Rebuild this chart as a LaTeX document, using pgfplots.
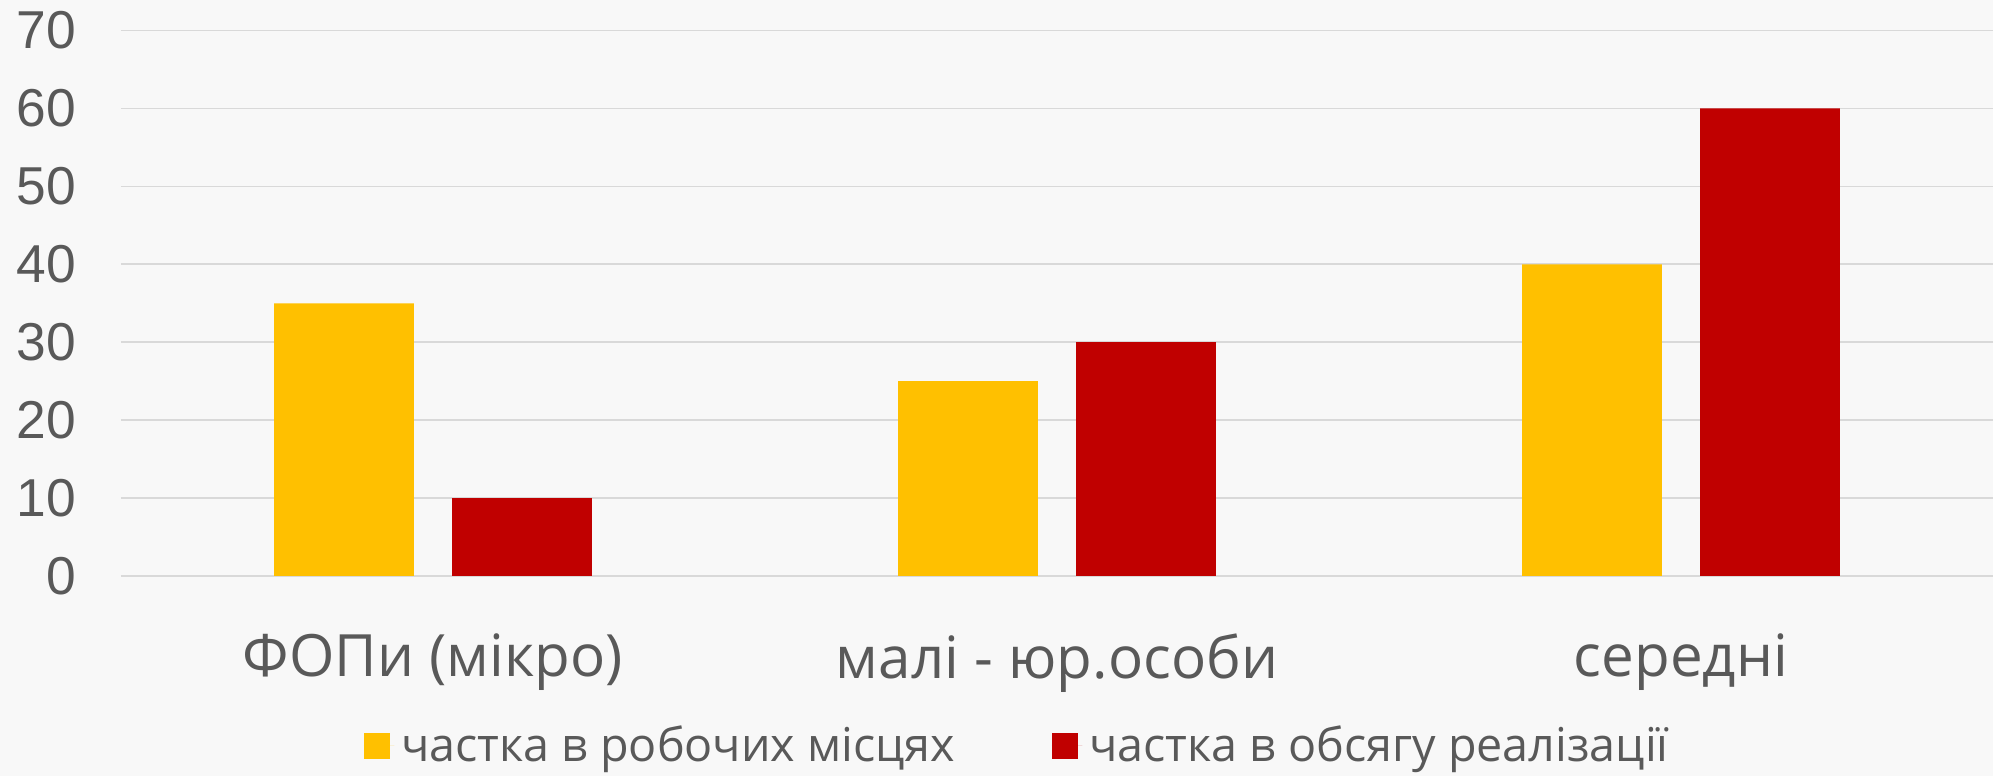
\documentclass[border=0pt]{standalone}
\usepackage{pgfplots}
\pgfplotsset{compat=1.18}
\usepackage{fontspec}
\setmainfont{Liberation Sans}
\newfontfamily\catfont{Open Sans}
\definecolor{bg}{HTML}{F8F8F8}
\definecolor{gridc}{HTML}{D9D9D9}
\definecolor{txt}{HTML}{595959}
\definecolor{yel}{HTML}{FFC000}
\definecolor{redc}{HTML}{C00000}
\begin{document}
\begin{tikzpicture}
\fill[bg] (0,0) rectangle (597.9pt,232.8pt);
\useasboundingbox (0,0) rectangle (597.9pt,232.8pt);
\begin{axis}[
  at={(36.3pt,60pt)}, anchor=south west,
  scale only axis,
  width=561.6pt, height=163.65pt,
  xmin=-0.5, xmax=2.5,
  ymin=0, ymax=70,
  ytick={0,10,...,70},
  xtick={0,1,2},
  xticklabels={ФОПи (мікро), малі - юр.особи, середні},
  axis line style={draw=none},
  major tick length=0pt,
  ymajorgrids,
  grid style={gridc, line width=0.5pt},
  /pgf/number format/assume math mode=true,
  yticklabel style={font=\fontsize{16}{18}\selectfont, text=txt, xshift=-10pt},
  xticklabel style={font=\catfont\fontsize{17.5}{20}\selectfont, text=txt, yshift=-13.8pt},
  clip=false,
  legend style={at={(axis description cs:0.48,-0.3116)}, anchor=center,
    draw=none, fill=none, legend columns=-1,
    font=\catfont\fontsize{14}{16}\selectfont, text=txt,
    /tikz/every even column/.append style={column sep=27pt}},
  legend image code/.code={\fill[#1] (0pt,-3.9pt) rectangle (7.8pt,3.9pt); \path (0pt,0pt) -- (9.2pt,0pt);},
]
\addplot[ybar, bar width=0.224, bar shift=-0.1426, fill=yel, draw=none] coordinates {(0,35) (1,25) (2,40)};
\addplot[ybar, bar width=0.224, bar shift=0.1426, fill=redc, draw=none] coordinates {(0,10) (1,30) (2,60)};
\legend{частка в робочих місцях, частка в обсягу реалізації}
\end{axis}
\end{tikzpicture}
\end{document}
